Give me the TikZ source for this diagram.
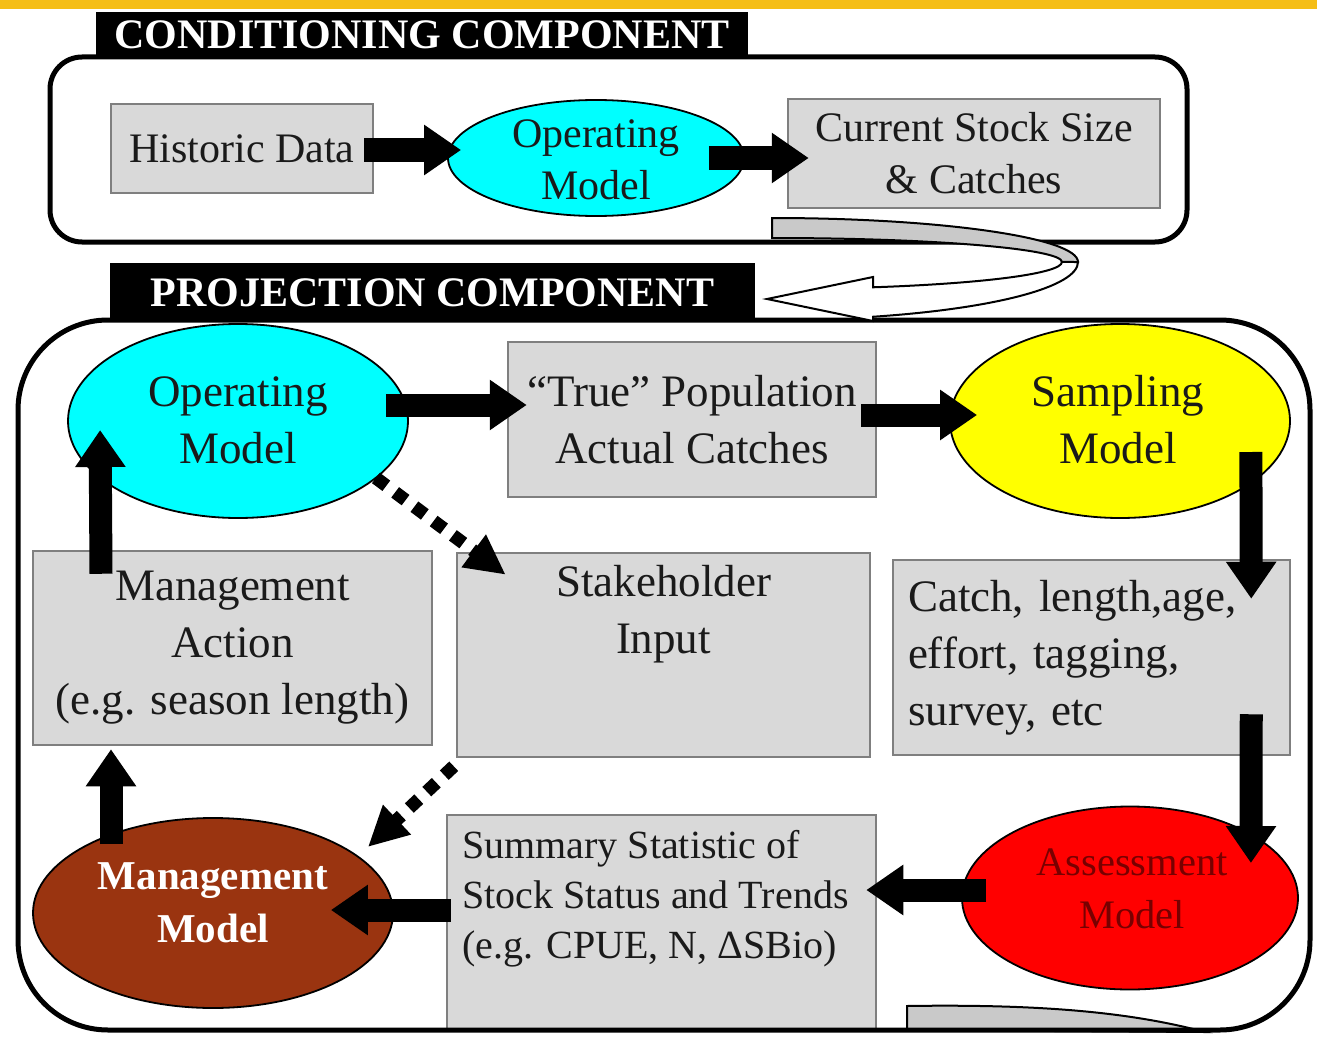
\documentclass[tikz,border=0pt]{standalone}
\usepackage{fontspec}
\setmainfont{Liberation Serif}
\usetikzlibrary{shapes.geometric,arrows.meta,calc}
\definecolor{boxgray}{HTML}{D9D9D9}
\definecolor{boxedge}{HTML}{7F7F7F}
\definecolor{cyanfill}{HTML}{00FFFF}
\definecolor{yellowfill}{HTML}{FFFF00}
\definecolor{redfill}{HTML}{FF0000}
\definecolor{brownfill}{HTML}{9A3410}
\definecolor{darkredtxt}{HTML}{780000}
\definecolor{topbar}{HTML}{F5BE16}
\definecolor{ribbongray}{HTML}{C9C9C9}
\definecolor{txtdark}{HTML}{1A1A1A}
\begin{document}
\begin{tikzpicture}[x=1pt,y=1pt,
  box/.style={draw=boxedge, line width=2.5pt, fill=boxgray, inner sep=0pt},
  ell/.style={ellipse, draw=black, line width=1.8pt, inner sep=0pt},
  btxt/.style={align=center, text=txtdark, font=\fontsize{45}{57}\selectfont, inner sep=0pt},
  ctxt/.style={align=center, text=txtdark, font=\fontsize{42}{52}\selectfont, inner sep=0pt},
  header/.style={fill=black, text=white, font=\bfseries\fontsize{42}{50}\selectfont, inner sep=0pt},
  blk/.style={line width=23pt, -{Triangle[length=37pt,width=48pt]}},
  dotarrow/.style={line width=13pt, dash pattern=on 13pt off 11pt, -{Triangle[length=40pt,width=38pt]}},
  frame/.style={draw=black, line width=5pt}
]
\useasboundingbox (0,0) rectangle (1317,-1038);
\fill[white] (0,0) rectangle (1317,-1038);
\fill[topbar] (0,0) rectangle (1317,-9);

% ---------------- Conditioning component
\draw[frame, rounded corners=32pt] (50,-57) rectangle (1187,-242);
\node[header, minimum width=652pt, minimum height=45pt] (condh) at (422,-34.5) {CONDITIONING COMPONENT};

\node[box, ctxt, minimum width=262pt, minimum height=89pt] (hist) at (242,-148.5) {Historic Data};
\node[ell, fill=cyanfill, minimum width=296pt, minimum height=116pt] (opc) at (596,-158) {};
\node[ctxt] (opcT) at (596,-160) {Operating\\Model};
\node[box, ctxt, minimum width=372pt, minimum height=109pt] (cur) at (974,-153.5) {Current Stock Size\\\& Catches};

\draw[blk] ($(hist.east)+(-10,-1.5)$) -- ($(opc.west)+(14,8)$);
\draw[blk] ($(opc.east)+(-36,0)$) -- ($(cur.west)+(22,-4.5)$);

% ---------------- Projection component nodes
\node[ell, fill=cyanfill, minimum width=340pt, minimum height=194pt] (opp) at (238,-421) {};
\node[btxt] (oppT) at (238,-420) {Operating\\Model};
\node[box, btxt, minimum width=368pt, minimum height=155pt] (truep) at (692,-419.5) {“True” Population\\Actual Catches};
\node[ell, fill=yellowfill, minimum width=340pt, minimum height=194pt] (samp) at (1120,-421) {};
\node[btxt] (sampT) at (1118,-420) {Sampling\\Model};

\node[box, btxt, align=left, text width=367pt, minimum width=397pt, minimum height=195pt] (catch) at (1091.5,-657.5) {Catch, length,age,\\effort, tagging,\\survey, etc};
\node[box, btxt, minimum width=399pt, minimum height=194pt] (action) at (232.5,-648) {Management\\Action\\(e.g. season length)};
\node[box, minimum width=413pt, minimum height=204pt] (stake) at (663.5,-655) {};
\node[btxt] (stakeT) at (663.5,-614) {Stakeholder\\Input};

\node[box, minimum width=429pt, minimum height=214pt] (summ) at (661.5,-922) {};
\node[align=left, text=txtdark, font=\fontsize{40}{50}\selectfont, inner sep=0pt, anchor=north west] (summT) at (462,-830) {Summary Statistic of\\Stock Status and Trends\\(e.g. CPUE, N, ΔSBio)};

\node[ell, fill=redfill, minimum width=336pt, minimum height=183pt] (assess) at (1130,-898) {};
\node[align=center, text=darkredtxt, font=\fontsize{40.5}{53}\selectfont, inner sep=0pt] (assessT) at (1132,-889) {Assessment\\Model};
\node[ell, fill=brownfill, minimum width=360pt, minimum height=190pt] (mgmt) at (213,-913) {};
\node[align=center, text=white, font=\bfseries\fontsize{41}{53}\selectfont, inner sep=0pt] (mgmtT) at (213,-903) {Management\\Model};

% bottom partial ribbon
\filldraw[fill=ribbongray, draw=black, line width=2pt] (907,-1030) -- (907,-1006) .. controls (1040,-1004) and (1130,-1012) .. (1205,-1032) -- cycle;

\draw[frame, rounded corners=90pt] (18,-320) rectangle (1310,-1030);
\node[header, minimum width=645pt, minimum height=59pt] (projh) at (432.5,-292.5) {PROJECTION COMPONENT};

% U-turn ribbon arrow between components
\filldraw[fill=ribbongray, draw=black, line width=2pt]
  (772,-238) -- (772,-218) arc[start angle=90, end angle=0, x radius=306, y radius=44]
  -- (1062,-262) arc[start angle=0, end angle=90, x radius=290, y radius=24] -- cycle;
\filldraw[fill=white, draw=black, line width=2pt]
  (1078,-262) arc[start angle=0, end angle=-70.7, x radius=306, y radius=58]
  -- (873,-321) -- (767,-299) -- (873,-277) -- (873,-287.3)
  arc[start angle=-69.6, end angle=0, x radius=290, y radius=27] -- cycle;

% ---------------- Projection arrows
\draw[blk] ($(opp.east)+(-23,16)$) -- ($(truep.west)+(20,14.5)$);
\draw[blk] ($(truep.east)+(-16,4.5)$) -- ($(samp.west)+(28,6)$);
\draw[blk] ($(samp.east)+(-40,-31)$) -- ($(catch.north east)+(-40,-40)$);
\draw[blk] ($(catch.south east)+(-40,42)$) -- ($(assess.east)+(-48,35)$);
\draw[blk] ($(assess.west)+(25,8)$) -- ($(summ.east)+(-11,32)$);
\draw[blk] ($(summ.west)+(5,12)$) -- ($(mgmt.east)+(-63,3)$);
\draw[blk] ($(mgmt.north)+(-102,-27)$) -- ($(action.south)+(-121.5,-3)$);
\draw[blk] ($(action.north)+(-131.5,-24)$) -- ($(opp.west)+(33,-9)$);

\draw[dotarrow] ($(opp.east)+(-33,-57)$) -- ($(stake.north west)+(50,-23)$);
\draw[dotarrow] ($(stake.south west)+(-2,-8)$) -- ($(mgmt.east)+(-26,66)$);
\end{tikzpicture}
\end{document}
